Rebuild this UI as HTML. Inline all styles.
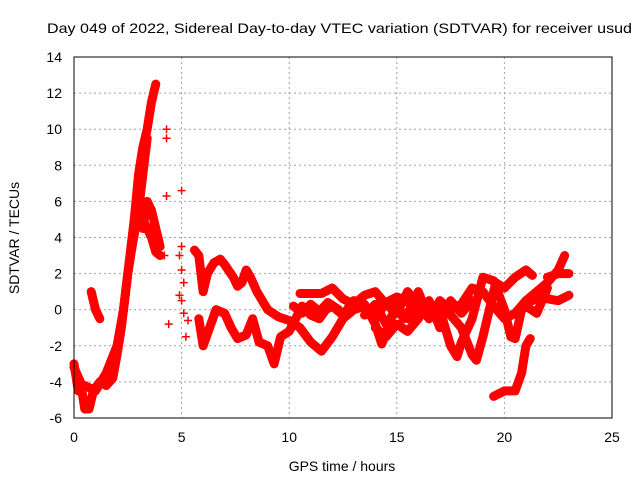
<!DOCTYPE html>
<html><head><meta charset="utf-8"><style>
body{margin:0;background:#fff;}
svg text{font-family:"Liberation Sans",sans-serif;font-size:14px;fill:#000;}
</style></head><body>
<svg width="640" height="480" xmlns="http://www.w3.org/2000/svg">
<rect width="640" height="480" fill="#fff"/>
<text x="47" y="33" textLength="585" lengthAdjust="spacingAndGlyphs">Day 049 of 2022, Sidereal Day-to-day VTEC variation (SDTVAR) for receiver usud</text>
<g id="grid"></g>
<g id="series"></g>
<rect x="74" y="57" width="538" height="361" fill="none" stroke="#000"/>
<g id="ticks"></g>
<text x="342" y="471" text-anchor="middle">GPS time / hours</text>
<text transform="translate(19,238) rotate(-90)" text-anchor="middle">SDTVAR / TECUs</text>
</svg>
<script>
const xTicks=[0,5,10,15,20,25];
const yTicks=[-6,-4,-2,0,2,4,6,8,10,12,14];
const trackA=[[0,-3.2],[0.3,-4],[0.5,-5.5],[0.7,-5.5],[0.9,-4.5],[1.2,-4],[1.5,-4.2],[1.8,-3.8],[2.0,-2.5],[2.2,-1],[2.4,1],[2.6,3],[2.8,5],[3.0,7.5],[3.2,9],[3.4,10],[3.6,11.5],[3.8,12.5]];
const trackA2=[[0,-3],[0.2,-4.5],[0.5,-4.2],[1,-4.5],[1.5,-3.5],[2,-2],[2.3,0],[2.5,2],[2.7,3.5],[3.0,5.5],[3.2,7.5],[3.4,9.5]];
const trackB=[[2.8,5],[3.0,6],[3.2,5],[3.4,4.5],[3.6,4],[3.8,3.2],[4.0,3]];
const trackB2=[[3.2,4.5],[3.4,6],[3.6,5.5],[3.8,4.5],[4.0,3.5]];
const trackS=[[0.8,1],[1.0,0],[1.2,-0.5]];
const trackC=[[5.6,3.3],[5.8,3],[5.9,2],[6.0,1],[6.2,2],[6.5,2.6],[6.8,2.8],[7.0,2.5],[7.4,1.8],[7.6,1.3],[7.8,1.5],[8.0,2.2],[8.2,1.8],[8.5,1],[9,0],[9.5,-0.4],[10,-0.6],[10.5,-1],[11,-1.8],[11.5,-2.3],[12,-1.5],[12.5,-0.5],[13,0],[13.5,0.2],[14,-0.5],[14.5,0.4],[15,0.7],[15.5,0.5],[16,-0.4],[16.5,0],[17,0.3],[17.5,-0.3],[18,-1],[18.5,-2.5],[18.7,-2.8],[19,-1.5],[19.3,0],[19.6,1.5],[20,1.2],[20.5,1.8],[21,2.2],[21.3,1.9]];
const trackD=[[5.8,-0.5],[6.0,-2],[6.3,-1],[6.6,0],[7,-0.2],[7.3,-1],[7.6,-1.6],[8,-1.4],[8.3,-0.5],[8.6,-1.8],[9,-2],[9.3,-3],[9.6,-1.5],[10,-1.2],[10.3,-0.5],[10.6,0.2],[11,-0.3],[11.4,-0.5],[11.7,0],[12,0.2],[12.5,-0.3],[13,0.5],[13.5,0.3],[14,-0.8],[14.3,-1.9],[14.6,-1],[15,0.5],[15.3,-0.5],[15.6,0],[16,1],[16.5,-0.5],[17,0],[17.5,-2],[17.8,-2.6],[18,-1.8],[18.5,-0.5],[19,1.8],[19.5,1.6],[20,0],[20.3,-1.5],[20.5,-1.6],[20.8,0],[21,0.2],[21.5,-0.2],[22,1.2]];
const trackE=[[10.5,0.9],[11.5,0.9],[12,1.2],[12.5,0.6],[13,0.3],[13.5,0.8],[14,1],[14.5,0.3],[15,-0.2],[15.5,1],[16,0.3],[16.5,-0.5],[17,0.5],[17.5,0],[18,0.3],[18.5,1.2],[19,1],[19.5,0.2],[20,-0.5],[20.5,-0.2],[21,0.5],[21.5,1],[22,1.5],[22.5,2.2],[22.8,3]];
const trackF=[[19.5,-4.8],[20,-4.5],[20.5,-4.5],[20.8,-3.5],[21.0,-2],[21.2,-1.6]];
const trackG=[[21.3,0.5],[21.8,1],[22,0.6],[22.5,0.5],[23,0.8]];
const trackH=[[22,1.8],[22.5,2],[23,2]];
const trackI=[[14,-1],[14.5,-1.5],[15,-0.8],[15.5,-1.2],[16,-0.5],[16.5,0.5],[17,-1]];
const trackJ=[[13.5,-0.3],[14,0.3],[14.5,-0.8],[15,0],[15.5,-0.5],[16,0.2],[16.5,-0.2],[17,-0.6],[17.5,0.5],[18,-0.2],[18.5,0.5]];
const trackK=[[10.2,0.2],[10.6,-0.2],[11,0.3],[11.4,-0.1],[11.8,0.4],[12.3,0]];
const scatter=[[4.3,10],[4.3,9.5],[4.3,6.3],[5.0,6.6],[5.0,3.5],[4.9,3.0],[5.0,2.2],[5.1,1.5],[4.9,0.8],[5.0,0.5],[5.1,-0.2],[5.3,-0.6],[5.2,-1.5],[4.4,-0.8],[3.8,3.5],[4.2,3]];
const tracks=[trackA,trackA2,trackB,trackB2,trackS,trackC,trackD,trackE,trackF,trackG,trackH,trackI,trackJ,trackK];
const NS="http://www.w3.org/2000/svg";
const X=h=>74+h*538/25;
const Y=v=>418-(v+6)*361/20;
const grid=document.getElementById('grid'),ticks=document.getElementById('ticks'),ser=document.getElementById('series');
function mk(t,a,p){const e=document.createElementNS(NS,t);for(const k in a)e.setAttribute(k,a[k]);p.appendChild(e);return e;}
xTicks.forEach(t=>{const x=X(t);
 if(t>0&&t<25){const g=mk('line',{x1:x,x2:x,y1:57,y2:418,stroke:'#a0a0a0','stroke-dasharray':'2,3'},grid);
 
 }
 const l=mk('text',{x:x,y:442,'text-anchor':'middle'},ticks);l.textContent=t;
 
 });
yTicks.forEach(t=>{const y=Y(t);
 if(t>-6&&t<14){const g=mk('line',{x1:74,x2:612,y1:y,y2:y,stroke:'#a0a0a0','stroke-dasharray':'2,3'},grid);
 
 }
 const l=mk('text',{x:62,y:y+5,'text-anchor':'end'},ticks);l.textContent=t;
 
 });
function plus(h,v){const x=X(h),y=Y(v);
 const p=mk('path',{d:`M${x-4},${y}H${x+4}M${x},${y-4}V${y+4}`,stroke:'#f00','stroke-width':1.5},ser);
 
 }
tracks.forEach(tr=>{
 const pl=mk('polyline',{points:tr.map(p=>X(p[0])+','+Y(p[1])).join(' '),fill:'none',stroke:'#f00','stroke-width':9,'stroke-linejoin':'round','stroke-linecap':'round'},ser);
 
 
 tr.forEach(p=>plus(p[0],p[1]));});
scatter.forEach(p=>plus(p[0],p[1]));
</script>
</body></html>
